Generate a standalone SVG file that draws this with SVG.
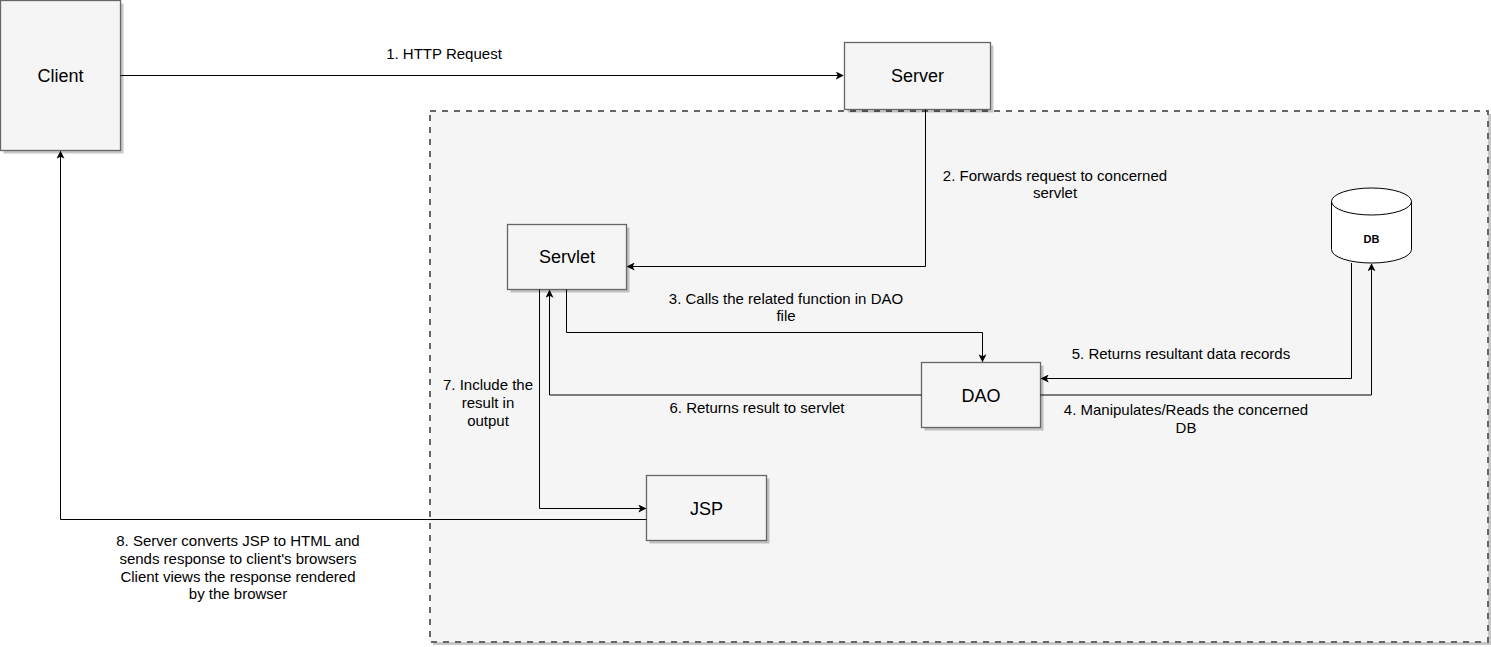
<svg xmlns="http://www.w3.org/2000/svg" width="1491" height="647" viewBox="0 0 1491 647">
<style>
.node{fill:#f5f5f5;stroke:#666666;stroke-width:1.3}
.shadow{fill:#000;opacity:0.22}
.nl{font-family:"Liberation Sans",Arial,sans-serif;font-size:18px;fill:#000;text-anchor:middle}
.el{font-family:"Liberation Sans",Arial,sans-serif;font-size:15px;fill:#000;text-anchor:middle}
.edge{fill:none;stroke:#000;stroke-width:1}
</style>
<defs>
<marker id="arr" viewBox="0 0 10 10" refX="9" refY="5" markerWidth="8" markerHeight="8" markerUnits="userSpaceOnUse" orient="auto">
<path d="M0,0 L10,5 L0,10 L2.5,5 Z" fill="#000"/>
</marker>
</defs>
<rect width="1491" height="647" fill="#ffffff"/>

<g id="container">
<rect x="433" y="114" width="1058" height="531" class="shadow"/>
<rect x="430" y="111" width="1058" height="531" fill="#f5f5f5" stroke="#666666" stroke-width="2" stroke-dasharray="6 6"/>
</g>

<g id="client">
<rect x="3.5" y="3.5" width="120" height="150" class="shadow"/>
<rect x="0.5" y="0.5" width="120" height="150" class="node"/>
<text x="60.5" y="82" class="nl">Client</text>
</g>

<g id="server">
<rect x="847.5" y="45.5" width="146" height="67" class="shadow"/>
<rect x="844.5" y="42.5" width="146" height="67" class="node"/>
<text x="917.5" y="82" class="nl">Server</text>
</g>

<g id="servlet">
<rect x="510.5" y="227.5" width="119" height="65" class="shadow"/>
<rect x="507.5" y="224.5" width="119" height="65" class="node"/>
<text x="567" y="263" class="nl">Servlet</text>
</g>

<g id="dao">
<rect x="924.5" y="365.5" width="119" height="65" class="shadow"/>
<rect x="921.5" y="362.5" width="119" height="65" class="node"/>
<text x="981" y="401.5" class="nl">DAO</text>
</g>

<g id="jsp">
<rect x="649.5" y="478.5" width="120" height="65" class="shadow"/>
<rect x="646.5" y="475.5" width="120" height="65" class="node"/>
<text x="706.5" y="515" class="nl">JSP</text>
</g>

<g id="db">
<path d="M1331.5,201.5 A40,13.5 0 0 1 1411.5,201.5 L1411.5,249.5 A40,13.5 0 0 1 1331.5,249.5 Z" fill="#ffffff" stroke="#000" stroke-width="1"/>
<path d="M1331.5,201.5 A40,13.5 0 0 0 1411.5,201.5" fill="none" stroke="#000" stroke-width="1"/>
<text x="1371.5" y="243" font-family="Liberation Sans,Arial,sans-serif" font-size="11" font-weight="bold" text-anchor="middle">DB</text>
</g>

<g id="connectors">
<path class="edge" d="M120.5,75.5 L843,75.5" marker-end="url(#arr)"/>
<path class="edge" d="M925.5,109.5 L925.5,266.5 L627.5,266.5" marker-end="url(#arr)"/>
<path class="edge" d="M566.5,289.5 L566.5,332.5 L982.5,332.5 L982.5,361.5" marker-end="url(#arr)"/>
<path class="edge" d="M1040.5,395 L1371.5,395 L1371.5,264" marker-end="url(#arr)"/>
<path class="edge" d="M1351.5,263 L1351.5,378.5 L1041.5,378.5" marker-end="url(#arr)"/>
<path class="edge" d="M921.5,395 L549.5,395 L549.5,290.5" marker-end="url(#arr)"/>
<path class="edge" d="M539.5,289.5 L539.5,508.5 L645.5,508.5" marker-end="url(#arr)"/>
<path class="edge" d="M646.5,519.5 L60.5,519.5 L60.5,151.5" marker-end="url(#arr)"/>
</g>

<g id="labels">
<text x="444" y="59" class="el">1. HTTP Request</text>
<text x="1055" y="181" class="el">2. Forwards request to concerned</text>
<text x="1055" y="198" class="el">servlet</text>
<text x="786" y="304" class="el">3. Calls the related function in DAO</text>
<text x="786" y="321" class="el">file</text>
<text x="1186" y="415" class="el">4. Manipulates/Reads the concerned</text>
<text x="1186" y="433" class="el">DB</text>
<text x="1181" y="359" class="el">5. Returns resultant data records</text>
<text x="757" y="413" class="el">6. Returns result to servlet</text>
<text x="488" y="390" class="el">7. Include the</text>
<text x="488" y="408" class="el">result in</text>
<text x="488" y="426" class="el">output</text>
<text x="238" y="546" class="el">8. Server converts JSP to HTML and</text>
<text x="238" y="564" class="el">sends response to client's browsers</text>
<text x="238" y="582" class="el">Client views the response rendered</text>
<text x="238" y="599" class="el">by the browser</text>
</g>
</svg>
